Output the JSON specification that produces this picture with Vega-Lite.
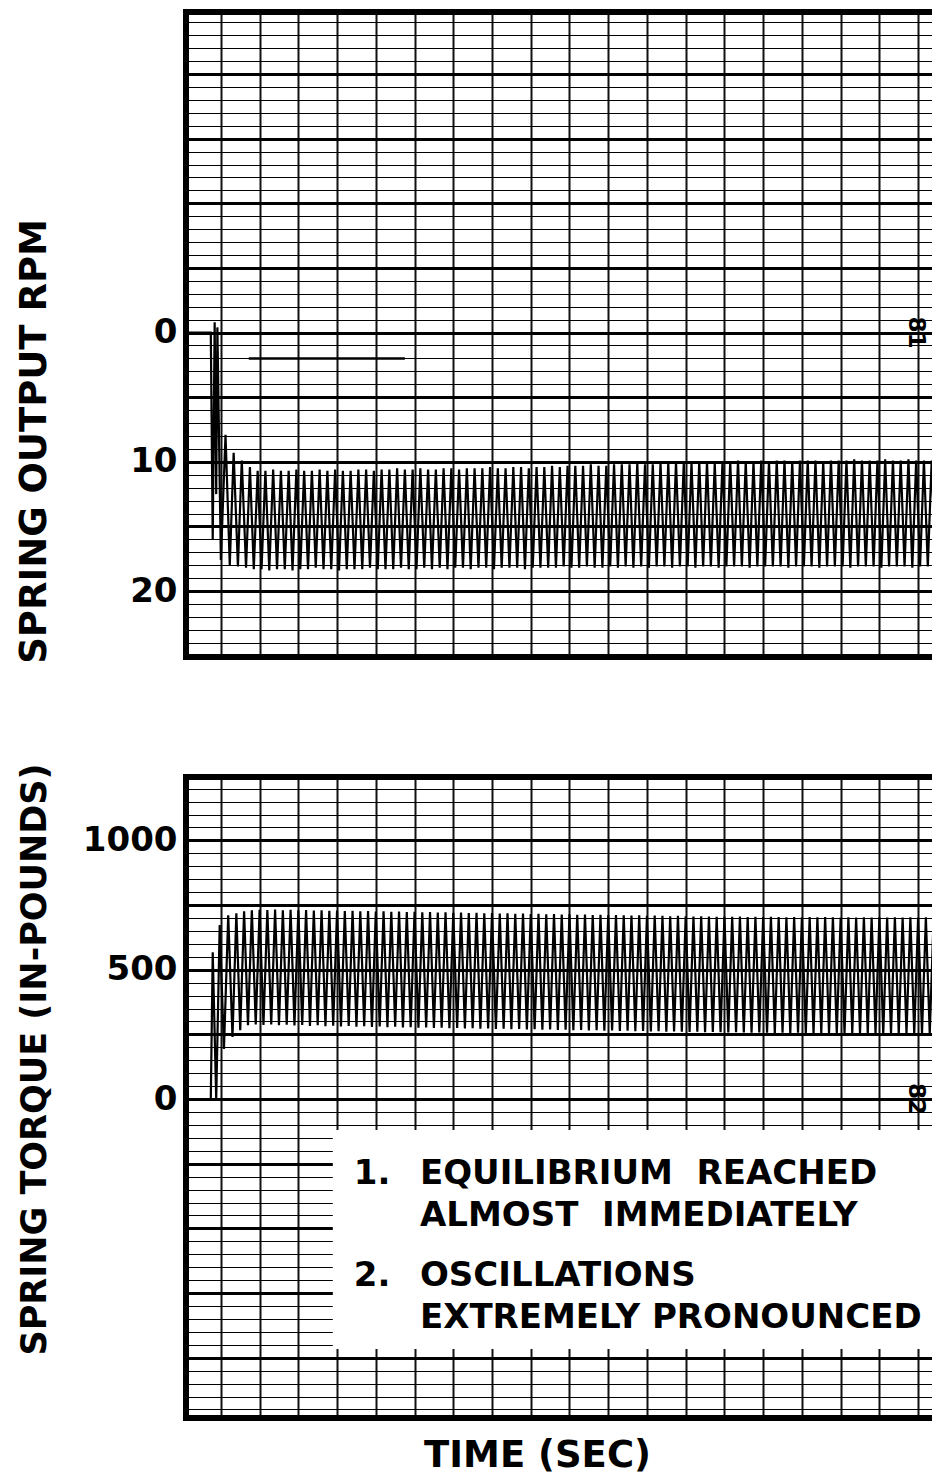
{
  "$schema": "https://vega.github.io/schema/vega-lite/v6.json",
  "background": "white",
  "padding": {"left": 15, "top": 5, "right": 0, "bottom": 5},
  "spacing": 120,
  "bounds": "flush",
  "config": {"view": {"stroke": null}},
  "datasets": {
    "rpm": [
      {"t":0.1,"v":0},{"t":0.74,"v":0},{"t":0.79,"v":16},{"t":0.84,"v":-0.8},{"t":0.88,"v":12.5},{"t":0.91,"v":-0.4},{"t":1.0,"v":17.6},{"t":1.12,"v":7.9},{"t":1.23,"v":18},{"t":1.33,"v":9.3},{"t":1.44,"v":18.1},{"t":1.54,"v":9.9},{"t":1.65,"v":18.2},{"t":1.75,"v":10.4},{"t":1.85,"v":18.3},
      {"t":1.95,"v":10.7},{"t":2.05,"v":18.3},{"t":2.15,"v":10.7},{"t":2.25,"v":18.4},{"t":2.35,"v":10.6},{"t":2.45,"v":18.3},{"t":2.55,"v":10.7},{"t":2.65,"v":18.3},{"t":2.75,"v":10.7},{"t":2.85,"v":18.4},{"t":2.95,"v":10.6},{"t":3.05,"v":18.3},{"t":3.15,"v":10.7},{"t":3.25,"v":18.3},{"t":3.35,"v":10.7},{"t":3.45,"v":18.2},{"t":3.55,"v":10.6},{"t":3.65,"v":18.3},{"t":3.75,"v":10.7},{"t":3.85,"v":18.3},{"t":3.95,"v":10.6},{"t":4.05,"v":18.4},{"t":4.15,"v":10.7},{"t":4.25,"v":18.3},{"t":4.35,"v":10.7},{"t":4.45,"v":18.3},{"t":4.55,"v":10.6},{"t":4.65,"v":18.3},{"t":4.75,"v":10.6},{"t":4.85,"v":18.2},{"t":4.95,"v":10.7},{"t":5.05,"v":18.3},{"t":5.15,"v":10.6},{"t":5.25,"v":18.3},{"t":5.35,"v":10.6},{"t":5.45,"v":18.3},{"t":5.55,"v":10.5},{"t":5.65,"v":18.2},{"t":5.75,"v":10.6},{"t":5.85,"v":18.3},{"t":5.95,"v":10.6},{"t":6.05,"v":18.3},{"t":6.15,"v":10.5},{"t":6.25,"v":18.2},{"t":6.35,"v":10.6},{"t":6.45,"v":18.3},{"t":6.55,"v":10.6},{"t":6.65,"v":18.2},{"t":6.75,"v":10.5},{"t":6.85,"v":18.3},{"t":6.95,"v":10.5},{"t":7.05,"v":18.2},{"t":7.15,"v":10.6},{"t":7.25,"v":18.2},{"t":7.35,"v":10.5},{"t":7.45,"v":18.3},{"t":7.55,"v":10.5},{"t":7.65,"v":18.2},{"t":7.75,"v":10.5},{"t":7.85,"v":18.2},{"t":7.95,"v":10.4},{"t":8.05,"v":18.3},{"t":8.15,"v":10.5},{"t":8.25,"v":18.2},{"t":8.35,"v":10.5},{"t":8.45,"v":18.2},{"t":8.55,"v":10.4},{"t":8.65,"v":18.2},{"t":8.75,"v":10.4},{"t":8.85,"v":18.3},{"t":8.95,"v":10.5},{"t":9.05,"v":18.2},{"t":9.15,"v":10.4},{"t":9.25,"v":18.2},{"t":9.35,"v":10.4},{"t":9.45,"v":18.2},{"t":9.55,"v":10.3},{"t":9.65,"v":18.2},{"t":9.75,"v":10.4},{"t":9.85,"v":18.1},{"t":9.95,"v":10.3},{"t":10.05,"v":18.2},{"t":10.15,"v":10.3},{"t":10.25,"v":18.2},{"t":10.35,"v":10.3},{"t":10.45,"v":18.1},{"t":10.55,"v":10.2},{"t":10.65,"v":18.2},{"t":10.75,"v":10.3},{"t":10.85,"v":18.2},{"t":10.95,"v":10.3},{"t":11.05,"v":18.1},{"t":11.15,"v":10.2},{"t":11.25,"v":18.2},{"t":11.35,"v":10.2},{"t":11.45,"v":18.1},{"t":11.55,"v":10.2},{"t":11.65,"v":18.2},{"t":11.75,"v":10.1},{"t":11.85,"v":18.1},{"t":11.95,"v":10.2},{"t":12.05,"v":18.2},{"t":12.15,"v":10.2},{"t":12.25,"v":18.1},{"t":12.35,"v":10.1},{"t":12.45,"v":18.1},{"t":12.55,"v":10.1},{"t":12.65,"v":18.2},{"t":12.75,"v":10.0},{"t":12.85,"v":18.1},{"t":12.95,"v":10.1},{"t":13.05,"v":18.1},{"t":13.15,"v":10.1},{"t":13.25,"v":18.2},{"t":13.35,"v":10.0},{"t":13.45,"v":18.1},{"t":13.55,"v":10.0},{"t":13.65,"v":18.1},{"t":13.75,"v":10.1},{"t":13.85,"v":18.2},{"t":13.95,"v":10.0},{"t":14.05,"v":18.1},{"t":14.15,"v":10.0},{"t":14.25,"v":18.1},{"t":14.35,"v":9.9},{"t":14.45,"v":18.1},{"t":14.55,"v":10.0},{"t":14.65,"v":18.2},{"t":14.75,"v":10.0},{"t":14.85,"v":18.1},{"t":14.95,"v":9.9},{"t":15.05,"v":18.1},{"t":15.15,"v":10.0},{"t":15.25,"v":18.1},{"t":15.35,"v":9.9},{"t":15.45,"v":18.1},{"t":15.55,"v":9.9},{"t":15.65,"v":18.2},{"t":15.75,"v":10.0},{"t":15.85,"v":18.1},{"t":15.95,"v":9.9},{"t":16.05,"v":18.1},{"t":16.15,"v":9.9},{"t":16.25,"v":18.1},{"t":16.35,"v":9.9},{"t":16.45,"v":18.2},{"t":16.55,"v":10.0},{"t":16.65,"v":18.1},{"t":16.75,"v":9.9},{"t":16.85,"v":18.1},{"t":16.95,"v":9.9},{"t":17.05,"v":18.1},{"t":17.15,"v":9.9},{"t":17.25,"v":18.2},{"t":17.35,"v":9.8},{"t":17.45,"v":18.1},{"t":17.55,"v":9.9},{"t":17.65,"v":18.1},{"t":17.75,"v":9.9},{"t":17.85,"v":18.1},{"t":17.95,"v":9.9},{"t":18.05,"v":18.2},{"t":18.15,"v":9.8},{"t":18.25,"v":18.1},{"t":18.35,"v":9.9},{"t":18.45,"v":18.1},{"t":18.55,"v":9.9},{"t":18.65,"v":18.1},{"t":18.75,"v":9.8},{"t":18.85,"v":18.2},{"t":18.95,"v":9.9},{"t":19.05,"v":18.1},{"t":19.15,"v":9.9},{"t":19.25,"v":18.1},{"t":19.35,"v":9.9},{"t":19.45,"v":18.1}
    ],
    "torque": [
      {"t":0.1,"v":0},{"t":0.74,"v":0},{"t":0.79,"v":567},{"t":0.88,"v":0},{"t":0.97,"v":673},{"t":1.08,"v":194},{"t":1.19,"v":710},{"t":1.3,"v":240},{"t":1.4,"v":718},{"t":1.5,"v":266},{"t":1.6,"v":726},
      {"t":1.7,"v":285},{"t":1.8,"v":730},{"t":1.9,"v":288},{"t":2.0,"v":732},{"t":2.1,"v":286},{"t":2.2,"v":731},{"t":2.3,"v":288},{"t":2.4,"v":733},{"t":2.5,"v":285},{"t":2.6,"v":730},{"t":2.7,"v":287},{"t":2.8,"v":732},{"t":2.9,"v":284},{"t":3.0,"v":730},{"t":3.1,"v":286},{"t":3.2,"v":731},{"t":3.3,"v":283},{"t":3.4,"v":729},{"t":3.5,"v":285},{"t":3.6,"v":730},{"t":3.7,"v":282},{"t":3.8,"v":728},{"t":3.9,"v":284},{"t":4.0,"v":729},{"t":4.1,"v":281},{"t":4.2,"v":727},{"t":4.3,"v":283},{"t":4.4,"v":728},{"t":4.5,"v":280},{"t":4.6,"v":726},{"t":4.7,"v":282},{"t":4.8,"v":727},{"t":4.9,"v":279},{"t":5.0,"v":725},{"t":5.1,"v":281},{"t":5.2,"v":726},{"t":5.3,"v":278},{"t":5.4,"v":724},{"t":5.5,"v":280},{"t":5.6,"v":725},{"t":5.7,"v":277},{"t":5.8,"v":723},{"t":5.9,"v":278},{"t":6.0,"v":724},{"t":6.1,"v":276},{"t":6.2,"v":722},{"t":6.3,"v":277},{"t":6.4,"v":723},{"t":6.5,"v":275},{"t":6.6,"v":721},{"t":6.7,"v":276},{"t":6.8,"v":722},{"t":6.9,"v":274},{"t":7.0,"v":720},{"t":7.1,"v":275},{"t":7.2,"v":721},{"t":7.3,"v":273},{"t":7.4,"v":719},{"t":7.5,"v":274},{"t":7.6,"v":720},{"t":7.7,"v":272},{"t":7.8,"v":718},{"t":7.9,"v":273},{"t":8.0,"v":719},{"t":8.1,"v":271},{"t":8.2,"v":717},{"t":8.3,"v":272},{"t":8.4,"v":718},{"t":8.5,"v":270},{"t":8.6,"v":716},{"t":8.7,"v":271},{"t":8.8,"v":717},{"t":8.9,"v":269},{"t":9.0,"v":715},{"t":9.1,"v":270},{"t":9.2,"v":716},{"t":9.3,"v":268},{"t":9.4,"v":714},{"t":9.5,"v":269},{"t":9.6,"v":715},{"t":9.7,"v":267},{"t":9.8,"v":713},{"t":9.9,"v":268},{"t":10.0,"v":714},{"t":10.1,"v":266},{"t":10.2,"v":712},{"t":10.3,"v":267},{"t":10.4,"v":713},{"t":10.5,"v":265},{"t":10.6,"v":711},{"t":10.7,"v":266},{"t":10.8,"v":712},{"t":10.9,"v":264},{"t":11.0,"v":710},{"t":11.1,"v":265},{"t":11.2,"v":711},{"t":11.3,"v":263},{"t":11.4,"v":710},{"t":11.5,"v":264},{"t":11.6,"v":709},{"t":11.7,"v":262},{"t":11.8,"v":710},{"t":11.9,"v":263},{"t":12.0,"v":708},{"t":12.1,"v":261},{"t":12.2,"v":709},{"t":12.3,"v":262},{"t":12.4,"v":708},{"t":12.5,"v":260},{"t":12.6,"v":707},{"t":12.7,"v":261},{"t":12.8,"v":708},{"t":12.9,"v":260},{"t":13.0,"v":707},{"t":13.1,"v":259},{"t":13.2,"v":706},{"t":13.3,"v":260},{"t":13.4,"v":707},{"t":13.5,"v":258},{"t":13.6,"v":706},{"t":13.7,"v":259},{"t":13.8,"v":705},{"t":13.9,"v":258},{"t":14.0,"v":706},{"t":14.1,"v":257},{"t":14.2,"v":705},{"t":14.3,"v":258},{"t":14.4,"v":706},{"t":14.5,"v":257},{"t":14.6,"v":704},{"t":14.7,"v":256},{"t":14.8,"v":705},{"t":14.9,"v":257},{"t":15.0,"v":704},{"t":15.1,"v":256},{"t":15.2,"v":705},{"t":15.3,"v":255},{"t":15.4,"v":704},{"t":15.5,"v":256},{"t":15.6,"v":703},{"t":15.7,"v":255},{"t":15.8,"v":704},{"t":15.9,"v":256},{"t":16.0,"v":703},{"t":16.1,"v":255},{"t":16.2,"v":704},{"t":16.3,"v":254},{"t":16.4,"v":703},{"t":16.5,"v":255},{"t":16.6,"v":704},{"t":16.7,"v":254},{"t":16.8,"v":703},{"t":16.9,"v":255},{"t":17.0,"v":702},{"t":17.1,"v":254},{"t":17.2,"v":703},{"t":17.3,"v":255},{"t":17.4,"v":702},{"t":17.5,"v":254},{"t":17.6,"v":703},{"t":17.7,"v":253},{"t":17.8,"v":702},{"t":17.9,"v":254},{"t":18.0,"v":703},{"t":18.1,"v":253},{"t":18.2,"v":702},{"t":18.3,"v":254},{"t":18.4,"v":703},{"t":18.5,"v":253},{"t":18.6,"v":702},{"t":18.7,"v":254},{"t":18.8,"v":703},{"t":18.9,"v":253},{"t":19.0,"v":702},{"t":19.1,"v":254},{"t":19.2,"v":703},{"t":19.3,"v":253},{"t":19.4,"v":702},{"t":19.5,"v":254}
    ]
  },
  "vconcat": [
    {
      "width": 748,
      "height": 645,
      "layer": [
        {
          "data": {"name": "rpm"},
          "mark": {"type": "line", "color": "black", "strokeWidth": 2.2, "clip": true},
          "encoding": {
            "x": {"field": "t", "type": "quantitative",
              "scale": {"domain": [0.1, 19.41], "nice": false, "zero": false},
              "axis": {"values": [1,2,3,4,5,6,7,8,9,10,11,12,13,14,15,16,17,18,19], "tickCount": 100, "labels": false, "ticks": false, "domain": false, "title": null, "grid": true, "gridColor": "#111", "gridWidth": 2}},
            "y": {"field": "v", "type": "quantitative",
              "scale": {"domain": [-24.8, 25.1], "reverse": true, "nice": false, "zero": false},
              "axis": {
                "values": [-24,-23,-22,-21,-20,-19,-18,-17,-16,-15,-14,-13,-12,-11,-10,-9,-8,-7,-6,-5,-4,-3,-2,-1,0,1,2,3,4,5,6,7,8,9,10,11,12,13,14,15,16,17,18,19,20,21,22,23,24,25],
                "tickCount": 100,
                "format": "d",
                "labelExpr": "datum.value == 0 || datum.value == 10 || datum.value == 20 ? datum.label : ''",
                "labelOverlap": false, "labelFont": "DejaVu Sans", "labelFontSize": 34, "labelFontWeight": "bold", "labelColor": "black", "labelPadding": 9,
                "ticks": false, "domain": false, "grid": true, "gridColor": "#000",
                "gridWidth": {"condition": {"test": "datum.value % 5 === 0", "value": 3}, "value": 1.2},
                "title": "SPRING OUTPUT RPM", "titleFont": "DejaVu Sans", "titleFontSize": 37, "titleFontWeight": "bold", "titleColor": "black",
                "titleAngle": -90, "titleX": -141, "titleY": 429, "titleBaseline": "alphabetic", "titleAlign": "center"}}
          }
        },
        {
          "data": {"values": [{}]},
          "mark": {"type": "rule", "color": "black", "strokeWidth": 2.5},
          "encoding": {"x": {"datum": 1.72}, "x2": {"datum": 5.75}, "y": {"datum": 2}}
        },
        {
          "data": {"values": [{}]},
          "mark": {"type": "text", "text": "81", "angle": 90, "font": "DejaVu Sans", "fontSize": 23, "fontWeight": "bold", "color": "black", "baseline": "middle", "align": "center"},
          "encoding": {"x": {"datum": 18.94}, "y": {"datum": 0}}
        },
        {
          "data": {"values": [{}]},
          "mark": {"type": "rule", "color": "black", "strokeWidth": 6, "strokeCap": "square"},
          "encoding": {"x": {"datum": 0.1}}
        },
        {
          "data": {"values": [{}]},
          "mark": {"type": "rule", "color": "black", "strokeWidth": 6},
          "encoding": {"y": {"datum": -24.8}}
        },
        {
          "data": {"values": [{}]},
          "mark": {"type": "rule", "color": "black", "strokeWidth": 6},
          "encoding": {"y": {"datum": 25.1}}
        }
      ]
    },
    {
      "width": 748,
      "height": 641,
      "layer": [
        {
          "data": {"name": "torque"},
          "mark": {"type": "line", "color": "black", "strokeWidth": 2.2, "clip": true},
          "encoding": {
            "x": {"field": "t", "type": "quantitative",
              "scale": {"domain": [0.1, 19.41], "nice": false, "zero": false},
              "axis": {"values": [1,2,3,4,5,6,7,8,9,10,11,12,13,14,15,16,17,18,19], "tickCount": 100, "labels": false, "ticks": false, "domain": false, "grid": true, "gridColor": "#111", "gridWidth": 2,
                "title": "TIME (SEC)", "titleFont": "DejaVu Sans", "titleFontSize": 37, "titleFontWeight": "bold", "titleColor": "black",
                "titleX": 351, "titleY": 48, "titleBaseline": "alphabetic", "titleAlign": "center"}},
            "y": {"field": "v", "type": "quantitative",
              "scale": {"domain": [-1233, 1245], "nice": false, "zero": false},
              "axis": {
                "values": [-1200,-1150,-1100,-1050,-1000,-950,-900,-850,-800,-750,-700,-650,-600,-550,-500,-450,-400,-350,-300,-250,-200,-150,-100,-50,0,50,100,150,200,250,300,350,400,450,500,550,600,650,700,750,800,850,900,950,1000,1050,1100,1150,1200],
                "tickCount": 100,
                "format": "d",
                "labelExpr": "datum.value == 0 || datum.value == 500 || datum.value == 1000 ? datum.label : ''",
                "labelOverlap": false, "labelFont": "DejaVu Sans", "labelFontSize": 34, "labelFontWeight": "bold", "labelColor": "black", "labelPadding": 9,
                "ticks": false, "domain": false, "grid": true, "gridColor": "#000",
                "gridWidth": {"condition": {"test": "datum.value % 250 === 0", "value": 3}, "value": 1.2},
                "title": "SPRING TORQUE (IN-POUNDS)", "titleFont": "DejaVu Sans", "titleFontSize": 35, "titleFontWeight": "bold", "titleColor": "black",
                "titleAngle": -90, "titleX": -141, "titleY": 282, "titleBaseline": "alphabetic", "titleAlign": "center"}}
          }
        },
        {
          "data": {"values": [{}]},
          "mark": {"type": "rect", "color": "white", "clip": true},
          "encoding": {"x": {"datum": 3.89}, "x2": {"datum": 20}, "y": {"datum": -120}, "y2": {"datum": -966}}
        },
        {
          "data": {"values": [{}]},
          "mark": {"type": "text", "text": "1.", "font": "DejaVu Sans", "fontSize": 34, "fontWeight": "bold", "color": "black", "align": "left", "baseline": "alphabetic"},
          "encoding": {"x": {"datum": 4.43}, "y": {"datum": -329}}
        },
        {
          "data": {"values": [{}]},
          "mark": {"type": "text", "text": ["EQUILIBRIUM\u00a0\u00a0REACHED", "ALMOST\u00a0\u00a0IMMEDIATELY"], "lineHeight": 42, "font": "DejaVu Sans", "fontSize": 34, "fontWeight": "bold", "color": "black", "align": "left", "baseline": "alphabetic"},
          "encoding": {"x": {"datum": 6.14}, "y": {"datum": -329}}
        },
        {
          "data": {"values": [{}]},
          "mark": {"type": "text", "text": "2.", "font": "DejaVu Sans", "fontSize": 34, "fontWeight": "bold", "color": "black", "align": "left", "baseline": "alphabetic"},
          "encoding": {"x": {"datum": 4.43}, "y": {"datum": -723}}
        },
        {
          "data": {"values": [{}]},
          "mark": {"type": "text", "text": ["OSCILLATIONS", "EXTREMELY PRONOUNCED"], "lineHeight": 42, "font": "DejaVu Sans", "fontSize": 34, "fontWeight": "bold", "color": "black", "align": "left", "baseline": "alphabetic"},
          "encoding": {"x": {"datum": 6.14}, "y": {"datum": -723}}
        },
        {
          "data": {"values": [{}]},
          "mark": {"type": "text", "text": "82", "angle": 90, "font": "DejaVu Sans", "fontSize": 23, "fontWeight": "bold", "color": "black", "baseline": "middle", "align": "center"},
          "encoding": {"x": {"datum": 18.94}, "y": {"datum": 0}}
        },
        {
          "data": {"values": [{}]},
          "mark": {"type": "rule", "color": "black", "strokeWidth": 6, "strokeCap": "square"},
          "encoding": {"x": {"datum": 0.1}}
        },
        {
          "data": {"values": [{}]},
          "mark": {"type": "rule", "color": "black", "strokeWidth": 6},
          "encoding": {"y": {"datum": 1245}}
        },
        {
          "data": {"values": [{}]},
          "mark": {"type": "rule", "color": "black", "strokeWidth": 6},
          "encoding": {"y": {"datum": -1233}}
        }
      ]
    }
  ]
}
